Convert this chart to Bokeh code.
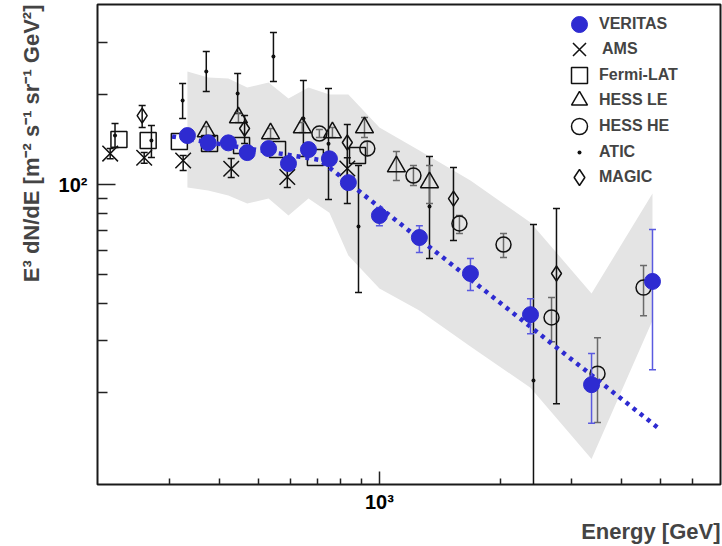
from bokeh.plotting import figure
from bokeh.models import ColumnDataSource, Range1d, FixedTicker, Legend, LegendItem, Title
from bokeh.embed import file_html
from bokeh.resources import INLINE

# ---------------- data ----------------
veritas_e = [333, 375, 421, 469, 530, 594, 666, 751, 837, 1000, 1257, 1684, 2375, 3369, 4776]
veritas_f = [146, 138, 138, 128, 132, 117.6, 131, 122, 101.5, 78.7, 66.4, 50.3, 36.6, 21.3, 47.3]
veritas_lo = [142, 134, 134, 124, 128, 113.5, 126, 117, 97, 72.8, 59.1, 44.1, 31.6, 15.8, 23.9]
veritas_hi = [150, 142, 142, 132, 136, 121.5, 136, 127, 106, 83.7, 72.8, 56.5, 41.4, 27.1, 70.6]

band_upper = [239.4, 228.6, 226.8, 211.6, 219.9, 194.4, 211.6, 200.5, 200.5, 155.3, 130.0, 103.1, 74.6, 43.1, 93.3]
band_lower = [97.7, 95.5, 91.9, 86.4, 89.7, 78.7, 89.7, 80.5, 57.8, 44.8, 37.8, 28.6, 20.8, 12.0, 35.0]

fit_e = [305, 710, 4950]
fit_f = [145, 121, 15.2]

ams_e = [214, 260, 325, 428, 590, 832]
ams_f = [127, 123, 120.4, 113, 106, 113.2]
ams_lo = [122, 118, 111.4, 105.6, 97.7, 104]
ams_hi = [132, 128, 125.1, 122.3, 116.7, 123]

fermi_e = [225, 266, 318, 378, 454, 558, 693, 882]
fermi_f = [141.6, 140.5, 139.4, 137.3, 135.1, 131, 123.2, 125.1]

hessle_e = [371, 446, 536, 643, 764, 918, 1102, 1332]
hessle_f = [150.6, 167.8, 148.3, 155.3, 149.4, 155.3, 114.9, 101.6]
hessle_lo = [144.9, 161.4, 142.8, 149.4, 143.8, 143.8, 103.1, 86.4]
hessle_hi = [156.5, 174.3, 154.2, 161.4, 155.3, 167.8, 129.1, 115.8]

hesshe_e = [709, 933, 1215, 1581, 2035, 2679, 3486, 4537]
hesshe_f = [148.3, 132.1, 107.2, 74.0, 62.9, 35.8, 23.2, 45.1]
hesshe_lo = [143.8, 125.1, 99.2, 68.5, 56.9, 29.7, 15.9, 36.3]
hesshe_hi = [152.9, 139.4, 115.8, 78.7, 68.5, 41.8, 30.6, 53.5]

atic_e = [220, 271, 324, 371, 444, 545, 647, 747, 887, 1332, 2416]
atic_f = [146.0, 140.5, 191.4, 239.4, 202.0, 268.9, 166.5, 137.0, 72.3, 84.4, 22.0]
atic_lo = [133.1, 123.2, 166.5, 205.1, 173.0, 221.6, 124.2, 89.1, 43.4, 56.5, 5.0]
atic_hi = [160.2, 157.7, 218.3, 279.5, 235.8, 323.6, 223.4, 210.0, 115.8, 124.2, 73.4]

magic_e = [257, 462, 832, 1528, 2756]
magic_f = [170.4, 154.2, 138.4, 89.7, 50.3]
magic_lo = [155.3, 137.3, 86.4, 64.9, 18.4]
magic_hi = [184.1, 170.4, 159.0, 114.0, 83.1]

x_major = [1000]
x_minor = [300, 400, 500, 600, 700, 800, 900, 2000, 3000, 4000, 5000, 6000]
y_major = [100]
y_minor = [20, 30, 40, 50, 60, 70, 80, 90, 200, 300]
x_labels = {1000: "10\u00b3"}
y_labels = {100: "10\u00b2"}

FONT = "Liberation Sans"
BLUE = "#2e2bd1"
BLUE_ERR = "#5a5ae0"
BLACK = "#111111"
GRAY_ERR = "#6a6a6a"
BAND = "#e4e4e4"

p = figure(width=722, height=546, x_axis_type="log", y_axis_type="log",
           x_range=Range1d(199, 7050), y_range=Range1d(9.85, 402),
           output_backend="svg", toolbar_location=None,
           min_border_left=97, min_border_right=2, min_border_top=4, min_border_bottom=62,
           margin=(0, 0, 0, 0))
p.grid.visible = False
p.outline_line_color = "#1a1a1a"
p.outline_line_width = 2
p.background_fill_color = "white"
p.border_fill_color = "white"

for ax in (p.xaxis[0], p.yaxis[0]):
    ax.axis_line_color = None
    ax.major_tick_out = 0
    ax.minor_tick_out = 0
    ax.major_tick_line_color = "#222222"
    ax.minor_tick_line_color = "#222222"
    ax.major_tick_line_width = 1.5
    ax.minor_tick_line_width = 1.5
    ax.major_label_text_font = FONT
    ax.major_label_text_font_style = "bold"
    ax.major_label_text_font_size = "20px"
    ax.major_label_text_color = "black"

p.xaxis.ticker = FixedTicker(ticks=x_major, minor_ticks=x_minor)
p.xaxis.major_tick_in = 13
p.xaxis.minor_tick_in = 6
p.xaxis.major_label_overrides = x_labels
p.xaxis.major_label_standoff = 6
p.yaxis.ticker = FixedTicker(ticks=y_major, minor_ticks=y_minor)
p.yaxis.major_tick_in = 18
p.yaxis.minor_tick_in = 10
p.yaxis.major_label_overrides = y_labels
p.yaxis.major_label_standoff = 10

# systematic band
p.patch(x=veritas_e + veritas_e[::-1], y=band_upper + band_lower[::-1],
        fill_color=BAND, line_color=None)


def errbars(e, lo, hi, color):
    src = ColumnDataSource(dict(e=e, lo=lo, hi=hi))
    p.segment(x0="e", y0="lo", x1="e", y1="hi", source=src, line_color=color, line_width=1.5)
    p.scatter(x="e", y="lo", marker="dash", size=7, source=src, line_color=color, line_width=1.5)
    p.scatter(x="e", y="hi", marker="dash", size=7, source=src, line_color=color, line_width=1.5)


errbars(ams_e, ams_lo, ams_hi, BLACK)
errbars(atic_e, atic_lo, atic_hi, BLACK)
errbars(magic_e, magic_lo, magic_hi, BLACK)
errbars(hessle_e, hessle_lo, hessle_hi, GRAY_ERR)
errbars(hesshe_e, hesshe_lo, hesshe_hi, GRAY_ERR)

r_ams = p.scatter(ams_e, ams_f, marker="x", size=22, line_color=BLACK, line_width=1.5)
r_fermi = p.scatter(fermi_e, fermi_f, marker="square", size=16, fill_color=None,
                    line_color=BLACK, line_width=1.5)
r_hle = p.scatter(hessle_e, hessle_f, marker="triangle", size=18, fill_color=None,
                  line_color=BLACK, line_width=1.5)
r_hhe = p.scatter(hesshe_e, hesshe_f, marker="circle", size=15, fill_color=None,
                  line_color=BLACK, line_width=1.5)
r_atic = p.scatter(atic_e, atic_f, marker="dot", size=16, line_color=BLACK, fill_color=BLACK)
r_magic = p.scatter(magic_e, magic_f, marker="diamond", size=15, fill_color=None,
                    line_color=BLACK, line_width=1.5)

# fit line
p.line(fit_e, fit_f, line_color=BLUE, line_width=4.5, line_dash="4 5")

errbars(veritas_e, veritas_lo, veritas_hi, BLUE_ERR)
r_ver = p.scatter(veritas_e, veritas_f, marker="circle", size=16, fill_color=BLUE,
                  line_color=BLUE)

# legend: one single-item legend per row so that rows sit 25.5 px apart
legend_rows = [("VERITAS", r_ver, 40), ("AMS", r_ams, 46), ("Fermi-LAT", r_fermi, 40),
               ("HESS LE", r_hle, 40), ("HESS HE", r_hhe, 40), ("ATIC", r_atic, 40),
               ("MAGIC", r_magic, 40)]
for i, (lab, rend, gs) in enumerate(legend_rows):
    center = 24 + 25.5 * i
    lg = Legend(items=[LegendItem(label=lab, renderers=[rend])],
                location=(int(round(482 - gs / 2)), int(round(484 - center - gs / 2))),
                glyph_width=gs, glyph_height=gs, label_standoff=max(0, 20 - gs // 2),
                padding=0, margin=0,
                label_height=20, border_line_color=None, background_fill_alpha=0,
                label_text_font=FONT, label_text_font_style="bold",
                label_text_font_size="16px")
    p.add_layout(lg)

ytitle = Title(text="E\u00b3 dN/dE [m\u207b\u00b2 s\u207b\u00b9 sr\u207b\u00b9 GeV\u00b2]",
               align="right", text_font=FONT, text_font_style="bold", text_font_size="22px",
               standoff=23)
p.add_layout(ytitle, "left")
xtitle = Title(text="Energy [GeV]", align="right", text_font=FONT, text_font_style="bold",
               text_font_size="22px", standoff=2)
p.add_layout(xtitle, "below")

open("out.html", "w").write(file_html(p, INLINE))
